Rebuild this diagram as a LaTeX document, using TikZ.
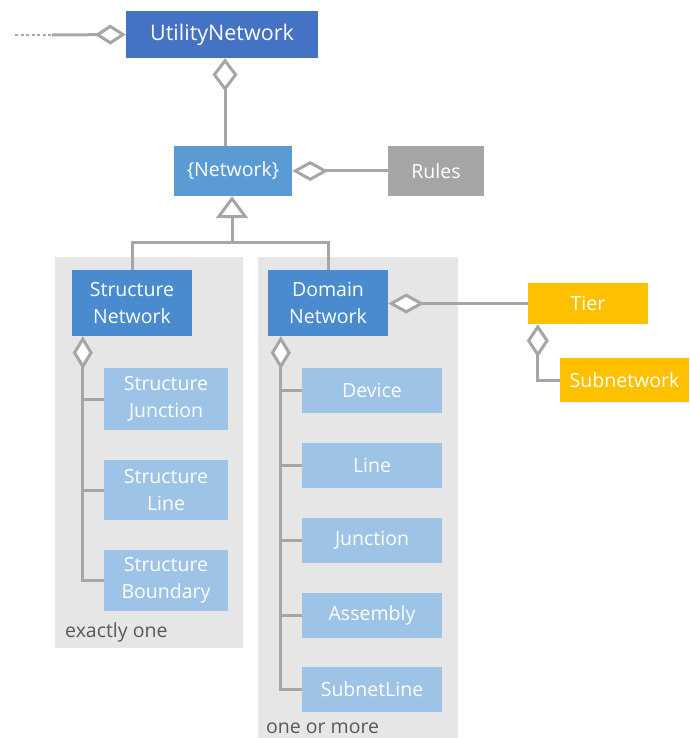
\documentclass[tikz,border=0pt]{standalone}
\usepackage{fontspec}
\setmainfont{Open Sans}
\usetikzlibrary{arrows.meta,calc}
\definecolor{unblue}{HTML}{4472C4}
\definecolor{netblue}{HTML}{5B9BD5}
\definecolor{subblue}{HTML}{4A8BCF}
\definecolor{childblue}{HTML}{9DC3E6}
\definecolor{rulegray}{HTML}{A5A5A5}
\definecolor{tiergold}{HTML}{FFC000}
\definecolor{panelgray}{HTML}{E7E6E6}
\definecolor{linegray}{HTML}{A6A6A6}
\definecolor{labelgray}{HTML}{595959}
\tikzset{
  box/.style={rectangle, inner sep=0pt, text=white, align=center, font=\fontsize{19.5}{27}\selectfont},
  conn/.style={draw=linegray, line width=3pt},
  lbl/.style={anchor=west, inner sep=0pt, text=labelgray, font=\fontsize{19.5}{22}\selectfont},
}
\begin{document}
\begin{tikzpicture}[x=1pt,y=-1pt]
\useasboundingbox (0,0) rectangle (689,738);
% panels
\fill[panelgray] (55,257) rectangle (243,648);
\fill[panelgray] (258,257) rectangle (458,738);
% nodes
\node[box, fill=unblue, minimum width=192, minimum height=47, font=\fontsize{21.5}{24}\selectfont] (un) at (222,34.5) {UtilityNetwork};
\node[box, fill=netblue, minimum width=118, minimum height=50] (net) at (233,171) {\{Network\}};
\node[box, fill=rulegray, minimum width=96, minimum height=50] (rules) at (436,171) {Rules};
\node[box, fill=subblue, minimum width=120, minimum height=66] (sn) at (132,303) {Structure\\Network};
\node[box, fill=subblue, minimum width=120, minimum height=66] (dn) at (328,303) {Domain\\Network};
\node[box, fill=childblue, minimum width=124, minimum height=62] (sj) at (166,399) {Structure\\Junction};
\node[box, fill=childblue, minimum width=124, minimum height=60] (sl) at (166,490) {Structure\\Line};
\node[box, fill=childblue, minimum width=124, minimum height=61] (sb) at (166,580.5) {Structure\\Boundary};
\node[box, fill=childblue, minimum width=140, minimum height=45] (dev) at (372,390.5) {Device};
\node[box, fill=childblue, minimum width=140, minimum height=45] (lin) at (372,465.5) {Line};
\node[box, fill=childblue, minimum width=140, minimum height=45] (jun) at (372,540.5) {Junction};
\node[box, fill=childblue, minimum width=140, minimum height=45] (asm) at (372,615.5) {Assembly};
\node[box, fill=childblue, minimum width=140, minimum height=45] (snl) at (372,689) {SubnetLine};
\node[box, fill=tiergold, minimum width=120, minimum height=41] (tier) at (588,303.5) {Tier};
\node[box, fill=tiergold, minimum width=129, minimum height=44] (sub) at (624.5,380) {Subnetwork};
\node[lbl] (l1) at (65,632) {exactly one};
\node[lbl] (l2) at (266,728) {one or more};
% connectors
\coordinate (dl) at (15,35);
\coordinate (dm) at (52,35);
\draw[draw=linegray, line width=2.5pt, dash pattern=on 3pt off 2.5pt] (dl) -- (dm);
\draw[conn, -{Diamond[fill=white, length=31pt, width=20pt]}] (dm) -- (un.west);
\coordinate (nup) at ([xshift=-8pt]net.north);
\draw[conn, -{Diamond[fill=white, length=33pt, width=25pt]}] (nup) -- (nup |- un.south);
\draw[conn, -{Diamond[fill=white, length=36pt, width=20pt]}] (rules.west) -- (net.east);
\coordinate (gj) at (232,242);
\draw[conn] (sn.north) |- (gj) -| (dn.north);
\draw[conn, -{Triangle[open, fill=white, length=22pt, width=32pt]}] (gj) -- (gj |- net.south);
\draw[conn, -{Diamond[fill=white, length=36pt, width=20pt]}] (tier.west) -- (tier.west -| dn.east);
\coordinate (tspine) at ([xshift=10pt]tier.south west);
\draw[conn, -{Diamond[fill=white, length=33pt, width=22pt]}] (sub.west) -| (tspine);
\coordinate (sspine) at ([xshift=11pt]sn.south west);
\draw[conn, -{Diamond[fill=white, length=33pt, width=20pt]}] (sb.west) -| (sspine);
\draw[conn] (sj.west) -- (sj.west -| sspine);
\draw[conn] (sl.west) -- (sl.west -| sspine);
\coordinate (dspine) at ([xshift=13pt]dn.south west);
\draw[conn, -{Diamond[fill=white, length=33pt, width=20pt]}] (snl.west) -| (dspine);
\draw[conn] (dev.west) -- (dev.west -| dspine);
\draw[conn] (lin.west) -- (lin.west -| dspine);
\draw[conn] (jun.west) -- (jun.west -| dspine);
\draw[conn] (asm.west) -- (asm.west -| dspine);
\end{tikzpicture}
\end{document}
